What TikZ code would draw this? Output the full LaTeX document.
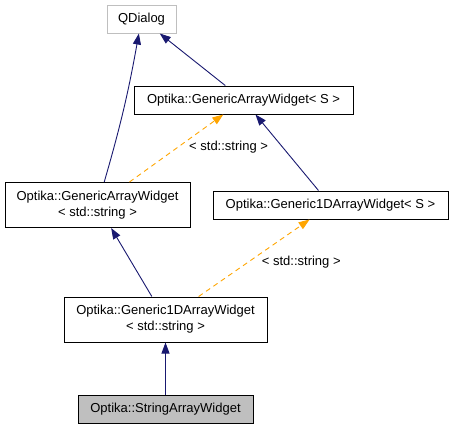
\documentclass[tikz,border=0pt]{standalone}
\usepackage{fontspec}
\setmainfont{Liberation Sans}
\usetikzlibrary{arrows.meta}
\definecolor{edgeblue}{RGB}{25,25,112}
\definecolor{tmplorange}{RGB}{255,165,0}
\definecolor{boxgray}{RGB}{191,191,191}
\tikzset{
        block/.style = {draw, rectangle, line width=1pt, inner sep=0pt,
            align=center, minimum height=28pt,
            font=\fontsize{13}{16}\selectfont},
        extblock/.style = {block, draw=boxgray},
        curblock/.style = {block, fill=boxgray},
        arrow/.style = {draw=edgeblue, line width=0.9pt,
            -{Triangle[length=11pt,width=8pt]}},
        tmplarrow/.style = {arrow, draw=tmplorange,
            dash pattern=on 5pt off 4pt},
        tmpllabel/.style = {font=\fontsize{13}{16}\selectfont, anchor=west},
    }

\begin{document}
\begin{tikzpicture}[x=1pt,y=-1pt]
    \useasboundingbox (0,0) rectangle (453,429);

    \node[extblock, minimum width=69pt] at (141.5,19) (qd) {QDialog};
    \node[block, minimum width=219pt] at (243.5,100) (gaws) {Optika::GenericArrayWidget< S >};
    \node[block, minimum width=185pt, minimum height=45pt] at (97.5,205) (gastr)
        {Optika::GenericArrayWidget\\< std::string >};
    \node[block, minimum width=235pt] at (330.5,205) (g1ds) {Optika::Generic1DArrayWidget< S >};
    \node[block, minimum width=203pt, minimum height=45pt] at (165.5,319.5) (g1dstr)
        {Optika::Generic1DArrayWidget\\< std::string >};
    \node[curblock, minimum width=175pt] at (165.5,409) (saw) {Optika::StringArrayWidget};

    \draw[arrow] (gastr) to[bend right=3] (qd);
    \draw[arrow] (gaws) -- (qd);
    \draw[arrow] (g1ds) -- (gaws);
    \draw[tmplarrow] (gastr) -- node[tmpllabel, pos=0.5, xshift=9pt, yshift=1pt] (lbla) {< std::string >} (gaws);
    \draw[arrow] (g1dstr) -- (gastr);
    \draw[tmplarrow] (g1dstr) -- node[tmpllabel, pos=0.5, xshift=4pt, yshift=-4pt] (lblb) {< std::string >} (g1ds);
    \draw[arrow] (saw) -- (g1dstr);
\end{tikzpicture}
\end{document}
